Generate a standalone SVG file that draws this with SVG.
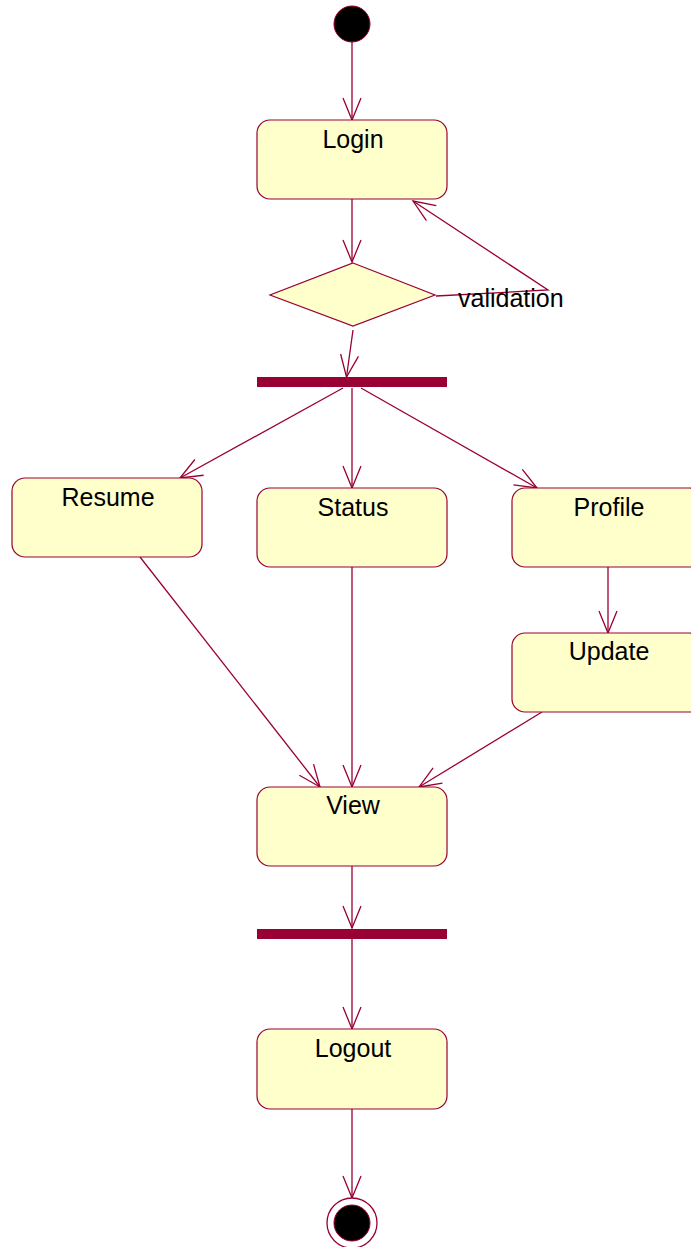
<svg xmlns="http://www.w3.org/2000/svg" width="691" height="1247" viewBox="0 0 691 1247">
  <style>
    .act { fill: #FFFFCC; stroke: #990033; stroke-width: 1.2; }
    .bar { fill: #990033; stroke: none; }
    .lbl { font-family: "Liberation Sans", Arial, sans-serif; font-size: 25px; fill: #000; text-anchor: middle; }
    .edge { fill: none; stroke: #990033; stroke-width: 1.3; marker-end: url(#open); }
  </style>
  <defs>
    <marker id="open" markerUnits="userSpaceOnUse" markerWidth="26" markerHeight="22" viewBox="-24 -11 26 22" refX="0" refY="0" orient="auto" overflow="visible">
      <path d="M -22 -9 L 0 0 L -22 9" fill="none" stroke="#990033" stroke-width="1.3"/>
    </marker>
  </defs>
  <rect width="691" height="1247" fill="#fff"/>

  <!-- connectors -->
  <g id="connectors">
    <line class="edge" x1="352" y1="42" x2="352" y2="120"/>
    <line class="edge" x1="352" y1="199" x2="352" y2="262"/>
    <polyline class="edge" points="436,296 548,290 413,201"/>
    <line class="edge" x1="353" y1="330" x2="346.5" y2="377"/>
    <line class="edge" x1="343" y1="388" x2="180" y2="478"/>
    <line class="edge" x1="352" y1="388" x2="352" y2="488"/>
    <line class="edge" x1="361" y1="388" x2="537" y2="488"/>
    <line class="edge" x1="608" y1="567" x2="608" y2="633"/>
    <line class="edge" x1="140" y1="557" x2="320" y2="787"/>
    <line class="edge" x1="352" y1="567" x2="352" y2="787"/>
    <line class="edge" x1="542" y1="712" x2="419" y2="787"/>
    <line class="edge" x1="352" y1="866" x2="352" y2="928"/>
    <line class="edge" x1="352" y1="939" x2="352" y2="1029"/>
    <line class="edge" x1="352" y1="1109" x2="352" y2="1198"/>
  </g>

  <g id="start">
    <circle cx="352" cy="24" r="18" fill="#000" stroke="#990033" stroke-width="1"/>
  </g>

  <g id="login">
    <rect class="act" x="257" y="120" width="190" height="79" rx="13"/>
    <text class="lbl" x="353" y="148">Login</text>
  </g>

  <g id="decision">
    <polygon class="act" points="353,263 435,295 353,326 270,295"/>
    <text class="lbl" x="458" y="307" style="text-anchor:start">validation</text>
  </g>

  <g id="fork">
    <rect class="bar" x="257" y="377" width="190" height="10"/>
  </g>

  <g id="resume">
    <rect class="act" x="12" y="478" width="190" height="79" rx="13"/>
    <text class="lbl" x="108" y="506">Resume</text>
  </g>

  <g id="status">
    <rect class="act" x="257" y="488" width="190" height="79" rx="13"/>
    <text class="lbl" x="353" y="516">Status</text>
  </g>

  <g id="profile">
    <rect class="act" x="512" y="488" width="190" height="79" rx="13"/>
    <text class="lbl" x="609" y="516">Profile</text>
  </g>

  <g id="update">
    <rect class="act" x="512" y="633" width="190" height="79" rx="13"/>
    <text class="lbl" x="609" y="660">Update</text>
  </g>

  <g id="view">
    <rect class="act" x="257" y="787" width="190" height="79" rx="13"/>
    <text class="lbl" x="353" y="814">View</text>
  </g>

  <g id="join">
    <rect class="bar" x="257" y="929" width="190" height="10"/>
  </g>

  <g id="logout">
    <rect class="act" x="257" y="1029" width="190" height="80" rx="13"/>
    <text class="lbl" x="353" y="1057">Logout</text>
  </g>

  <g id="end">
    <circle cx="352" cy="1223" r="25" fill="#fff" stroke="#990033" stroke-width="1.3"/>
    <circle cx="352" cy="1223" r="18" fill="#000" stroke="#990033" stroke-width="1"/>
  </g>
</svg>
